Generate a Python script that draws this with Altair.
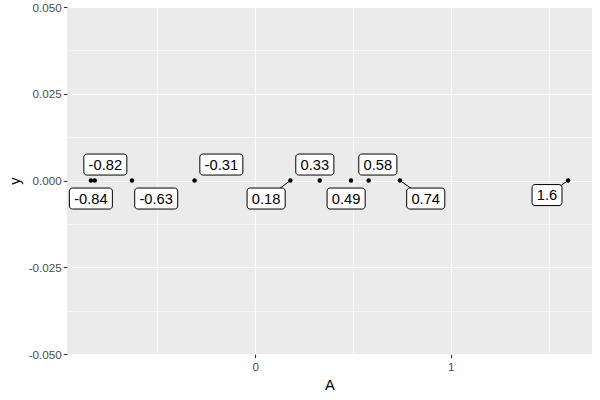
import altair as alt
import pandas as pd

# point values (x) and their printed labels
values = [-0.84, -0.82, -0.63, -0.31, 0.18, 0.33, 0.49, 0.58, 0.74, 1.6]
labels = ["-0.84", "-0.82", "-0.63", "-0.31", "0.18", "0.33", "0.49", "0.58", "0.74", "1.6"]
y_values = [0, 0, 0, 0, 0, 0, 0, 0, 0, 0]
# repelled label anchors (data units)
label_x = [-0.840, -0.766, -0.506, -0.173, 0.056, 0.305, 0.465, 0.627, 0.872, 1.492]
label_y = [-0.0052, 0.0046, -0.0052, 0.0046, -0.0052, 0.0046, -0.0052, 0.0046, -0.0052, -0.0042]
show_segment = [False, False, False, False, True, False, False, False, True, True]

df = pd.DataFrame({
    "A": values, "y": y_values, "label": labels,
    "lx": label_x, "ly": label_y, "seg": show_segment,
})

X_DOMAIN = [-0.962, 1.722]
Y_DOMAIN = [-0.05, 0.05]
W, H = 525, 347
PX_X = W / (X_DOMAIN[1] - X_DOMAIN[0])
PX_Y = H / (Y_DOMAIN[1] - Y_DOMAIN[0])
FONT = "Liberation Sans"
FS = 14.7

x_major = "abs(datum.value - round(datum.value)) < 1e-6"
y_major = "abs(datum.value*40 - round(datum.value*40)) < 1e-6"

x_axis = alt.Axis(
    values=[-0.5, 0, 0.5, 1, 1.5], title="A", grid=True, domain=False,
    gridColor="white", gridWidth={"expr": f"{x_major} ? 1.1 : 0.55"},
    tickColor="#333333", tickSize=3.7, tickWidth=1.1,
    tickOpacity={"expr": f"{x_major} ? 1 : 0"},
    labelExpr=f"{x_major} ? format(datum.value, 'd') : ''",
    labelOverlap=False, labelFlush=False, labelColor="#4D4D4D",
    labelFont=FONT, labelFontSize=11.7, labelPadding=4,
    titleFont=FONT, titleFontSize=FS, titleFontWeight="normal", titleColor="black",
    titlePadding=4,
)
y_axis = alt.Axis(
    values=[-0.05, -0.0375, -0.025, -0.0125, 0, 0.0125, 0.025, 0.0375, 0.05],
    title="y", grid=True, domain=False,
    gridColor="white", gridWidth={"expr": f"{y_major} ? 1.1 : 0.55"},
    tickColor="#333333", tickSize=3.7, tickWidth=1.1,
    tickOpacity={"expr": f"{y_major} ? 1 : 0"},
    labelExpr=f"{y_major} ? replace(format(datum.value, '.3f'), '\u2212', '-') : ''",
    labelOverlap=False, labelFlush=False, labelColor="#4D4D4D",
    labelFont=FONT, labelFontSize=11.7, labelPadding=2,
    titleFont=FONT, titleFontSize=FS, titleFontWeight="normal", titleColor="black",
    titlePadding=6,
)
xs = alt.Scale(domain=X_DOMAIN, nice=False, zero=False)
ys = alt.Scale(domain=Y_DOMAIN, nice=False, zero=False)

base = alt.Chart(df)

points = base.mark_circle(size=20, color="black", opacity=1).encode(
    x=alt.X("A:Q", scale=xs, axis=x_axis),
    y=alt.Y("y:Q", scale=ys, axis=y_axis),
)

segments = base.transform_filter("datum.seg").mark_rule(color="black", strokeWidth=1).encode(
    x=alt.X("A:Q", scale=xs, axis=x_axis),
    y=alt.Y("y:Q", scale=ys, axis=y_axis),
    x2="lx:Q", y2="ly:Q",
)

boxes = base.transform_calculate(
    wpx=f"(length(datum.label)*0.556 - 0.278 - (datum.A < 0 ? 0.223 : 0))*{FS} + 9.5",
).transform_calculate(
    x0=f"datum.lx - datum.wpx/2/{PX_X}",
    x1=f"datum.lx + datum.wpx/2/{PX_X}",
    y0=f"datum.ly - 10.5/{PX_Y}",
    y1=f"datum.ly + 10.5/{PX_Y}",
).mark_rect(fill="white", stroke="black", strokeWidth=1, cornerRadius=3).encode(
    x=alt.X("x0:Q", scale=xs, axis=x_axis),
    x2="x1:Q",
    y=alt.Y("y0:Q", scale=ys, axis=y_axis),
    y2="y1:Q",
)

texts = base.mark_text(font=FONT, fontSize=FS, color="black", baseline="middle", align="center", dy=1).encode(
    x=alt.X("lx:Q", scale=xs, axis=x_axis),
    y=alt.Y("ly:Q", scale=ys, axis=y_axis),
    text="label:N",
)

chart = alt.layer(points, segments, boxes, texts).properties(
    width=W, height=H, autosize="none",
    padding={"left": 67, "top": 7, "right": 8, "bottom": 46},
    background="white",
).configure_view(fill="#EBEBEB", stroke=None)

chart.save("out.html", embed_options={"renderer": "svg", "actions": False})
